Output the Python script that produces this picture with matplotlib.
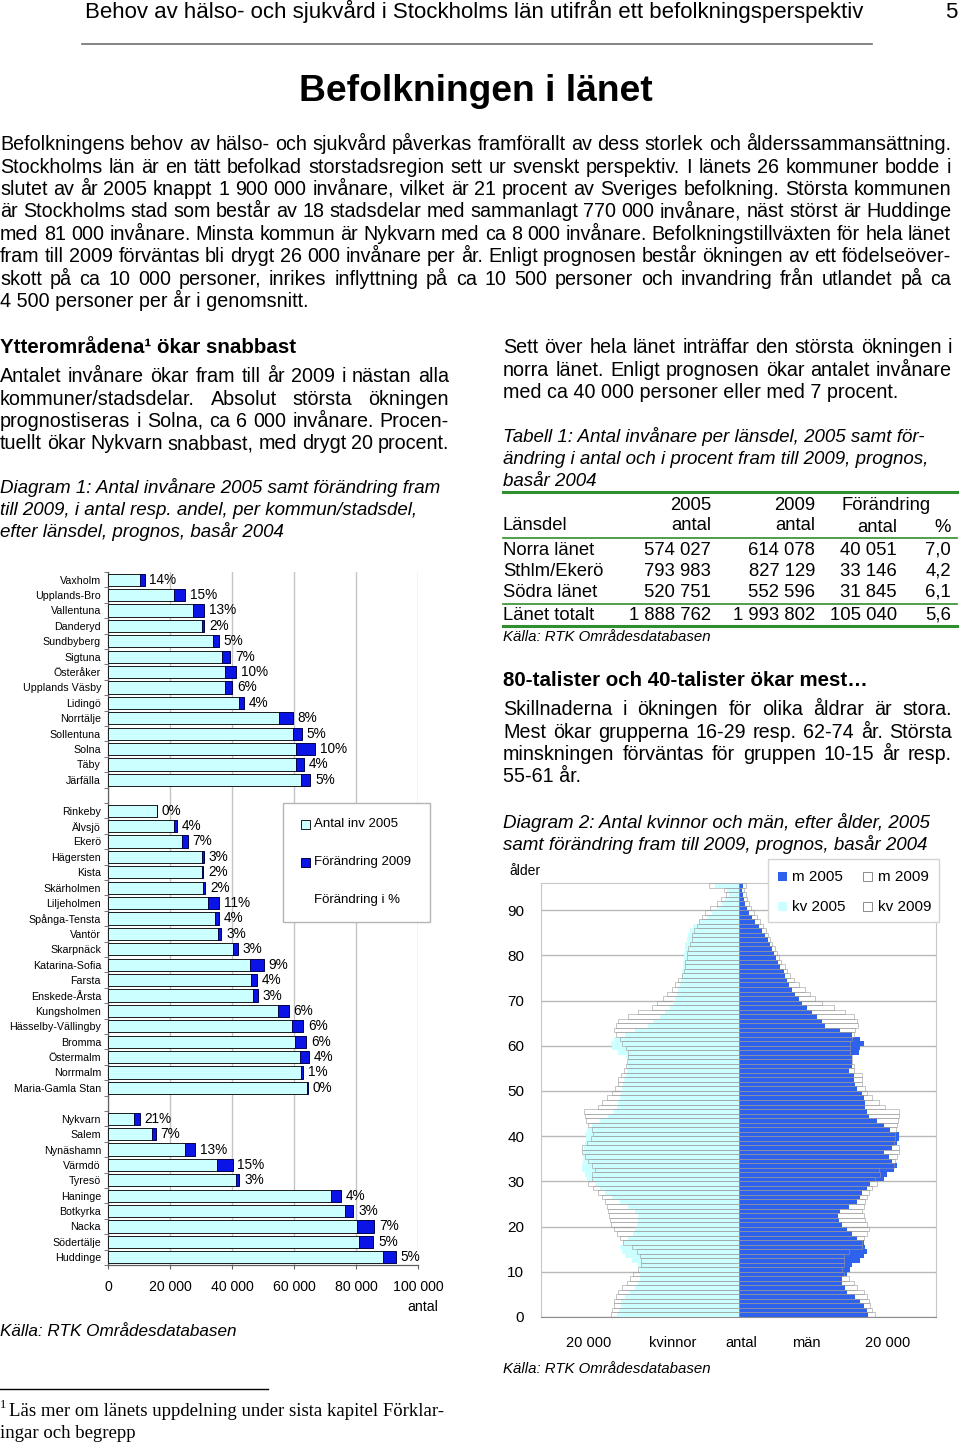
import matplotlib
matplotlib.use("Agg")
import matplotlib.pyplot as plt
from matplotlib.patches import Rectangle
import numpy as np

plt.rcParams['font.family'] = ['Liberation Sans', 'DejaVu Sans']

# Diagram 1: invanare 2005 och forandring till 2009
norra_names = ["Vaxholm", "Upplands-Bro", "Vallentuna", "Danderyd", "Sundbyberg", "Sigtuna",
               "Österåker", "Upplands Väsby", "Lidingö", "Norrtälje", "Sollentuna", "Solna",
               "Täby", "Järfälla"]
norra_2005 = [10300, 21400, 27400, 30400, 33900, 36800, 37600, 37600, 42100, 55100, 59600,
              60600, 60600, 62100]
norra_change = [1500, 3400, 3600, 600, 1800, 2600, 3800, 2400, 1800, 4500, 2900, 6200, 2600, 3200]
norra_pct = [14, 15, 13, 2, 5, 7, 10, 6, 4, 8, 5, 10, 4, 5]

sthlm_names = ["Rinkeby", "Älvsjö", "Ekerö", "Hägersten", "Kista", "Skärholmen", "Liljeholmen",
               "Spånga-Tensta", "Vantör", "Skarpnäck", "Katarina-Sofia", "Farsta",
               "Enskede-Årsta", "Kungsholmen", "Hässelby-Vällingby", "Bromma", "Östermalm",
               "Norrmalm", "Maria-Gamla Stan"]
sthlm_2005 = [15700, 21300, 24000, 30200, 30200, 30800, 32100, 34600, 35400, 40400, 45900,
              46200, 46900, 54900, 59400, 60200, 61800, 62400, 64100]
sthlm_change = [0, 1000, 1700, 700, 600, 600, 3600, 1300, 1200, 1400, 4300, 1800, 1400, 3400,
                3600, 3700, 2900, 600, 300]
sthlm_pct = [0, 4, 7, 3, 2, 2, 11, 4, 3, 3, 9, 4, 3, 6, 6, 6, 4, 1, 0]

sodra_names = ["Nykvarn", "Salem", "Nynäshamn", "Värmdö", "Tyresö", "Haninge", "Botkyrka",
               "Nacka", "Södertälje", "Huddinge"]
sodra_2005 = [8300, 14200, 24800, 35100, 41200, 71800, 76500, 80300, 81100, 88600]
sodra_change = [2000, 1200, 3200, 5100, 1200, 3200, 2600, 5500, 4500, 4200]
sodra_pct = [21, 7, 13, 15, 3, 4, 3, 7, 5, 5]

x_ticks1 = [0, 20000, 40000, 60000, 80000, 100000]

# Diagram 2: alderspyramid, alder 0..95
kv_2005 = [16230, 15920, 15700, 15700, 15160, 14500, 13830, 13380, 13160, 13160,
           13160, 13380, 14270, 15160, 15610, 15830, 15390, 14720, 14050, 13830,
           13600, 13380, 13380, 13830, 14720, 15830, 16950, 17840, 18510, 19180,
           20290, 20520, 20960, 20870, 20830, 20740, 20740, 20610, 20520, 20430,
           20520, 20290, 19620, 18510, 17390, 16590, 16280, 16060, 15830, 15700,
           15610, 15390, 15250, 15070, 14940, 14810, 14810, 15070, 16060, 16860,
           17040, 16590, 15160, 13830, 12040, 11370, 10480, 9810, 9140, 8700,
           8470, 8250, 8030, 7800, 7670, 7580, 7490, 7360, 7360, 7270,
           7230, 7140, 7140, 6910, 6690, 6470, 6020, 5130, 4240, 3570,
           2900, 2230, 1780, 1250, 1560, 3120]
kv_2009 = [17040, 16860, 16590, 16590, 16410, 16150, 15610, 14940, 14500, 14050,
           13380, 13020, 13020, 13160, 13600, 14270, 15390, 15830, 16280, 16590,
           17040, 17170, 17260, 17390, 17620, 17840, 18200, 18730, 19400, 20070,
           19620, 19620, 19180, 19620, 20070, 20520, 20960, 20960, 20290, 19710,
           19400, 19620, 20070, 20380, 20520, 20650, 18730, 18290, 17620, 16860,
           16500, 16150, 16060, 15700, 15250, 15070, 14940, 14810, 14810, 15070,
           15610, 15830, 16410, 16590, 16410, 16060, 14720, 13380, 11600, 10930,
           10040, 9590, 8920, 8470, 8030, 7580, 7270, 7140, 7140, 6910,
           6820, 6690, 6470, 6240, 6150, 5890, 5580, 5260, 4910, 4460,
           3790, 2900, 2320, 1650, 1920, 3920]
m_2005 = [17300, 17170, 16730, 16280, 15610, 14500, 14270, 13830, 13830, 14500,
          14940, 15160, 16280, 16730, 17170, 16950, 16730, 15830, 15160, 14500,
          13830, 13380, 13290, 13600, 14720, 15830, 16280, 16500, 17170, 17620,
          19400, 19850, 20740, 21190, 20520, 20070, 19400, 20520, 21190, 21410,
          21410, 20290, 19400, 18510, 17390, 17170, 16950, 16950, 16730, 16500,
          15830, 15610, 15390, 15390, 14720, 15160, 15160, 15160, 16060, 16280,
          16730, 16280, 15160, 13600, 11600, 11150, 10480, 9810, 9140, 8470,
          8030, 7580, 7140, 6690, 6470, 6240, 6020, 5580, 5260, 5000,
          4680, 4460, 4150, 3920, 3570, 3120, 2680, 2230, 1780, 1340,
          1120, 890, 670, 540, 450, 540]
m_2009 = [18200, 17840, 17620, 17390, 17170, 16730, 15830, 15390, 14720, 14050,
          13830, 14050, 14050, 14050, 14720, 16500, 16500, 16730, 17170, 17390,
          17170, 16950, 16730, 16500, 16730, 16950, 17170, 17390, 17840, 18510,
          18290, 18960, 18730, 20740, 20960, 21190, 21410, 21410, 20740, 20870,
          20960, 21050, 21190, 21320, 21410, 21410, 19620, 18730, 17840, 17170,
          16860, 16500, 16500, 16500, 15390, 15390, 15160, 15160, 14940, 14940,
          14940, 15160, 15390, 15610, 15970, 15830, 15390, 14270, 12710, 11150,
          10260, 9590, 8920, 8030, 7360, 6910, 6470, 6240, 5710, 5350,
          5130, 4820, 4460, 4240, 3920, 3700, 3210, 2900, 2450, 2010,
          1690, 1340, 1120, 980, 800, 980]
age_ticks = [0, 10, 20, 30, 40, 50, 60, 70, 80, 90]

# Tabell 1
tab_rows = ["Norra länet", "Sthlm/Ekerö", "Södra länet"]
tab_2005 = ["574 027", "793 983", "520 751"]
tab_2009 = ["614 078", "827 129", "552 596"]
tab_diff = ["40 051", "33 146", "31 845"]
tab_pct = ["7,0", "4,2", "6,1"]
tab_total = ["Länet totalt", "1 888 762", "1 993 802", "105 040", "5,6"]

LIGHT = "#ccffff"
BLUE = "#0a14e6"
MBLUE = "#2f62ec"
GREEN = "#2f8f2f"

BODY = 14.2
ITAL = 13.5
HEAD = 14.8

W, H = 960, 1446
fig = plt.figure(figsize=(9.6, 14.46), dpi=100)


def px_rect(x0, y0, x1, y1):
    return [x0 / W, 1 - y1 / H, (x1 - x0) / W, (y1 - y0) / H]


# ---- diagram 1
ax1 = fig.add_axes(px_rect(108, 572, 418, 1265))
groups = [(norra_names, norra_2005, norra_change, norra_pct),
          (sthlm_names, sthlm_2005, sthlm_change, sthlm_pct),
          (sodra_names, sodra_2005, sodra_change, sodra_pct)]
pos = 0
ticks, labels = [], []
for names, b, c, p in groups:
    y = np.arange(pos, pos + len(names))
    ax1.barh(y, b, height=0.8, color=LIGHT, edgecolor="#1a1a1a", lw=0.7, zorder=3)
    ax1.barh(y, c, left=b, height=0.8, color=BLUE, edgecolor="#00004a", lw=0.7, zorder=3)
    for yy, bb, cc, pp in zip(y, b, c, p):
        ax1.annotate(f"{pp}%", (bb + cc, yy), xytext=(3.5, 0), textcoords="offset points",
                     va="center", ha="left", fontsize=9.8, zorder=4)
    ticks += list(y)
    labels += names
    pos += len(names) + 1

ax1.set_ylim(pos - 1.5, -0.5)
ax1.set_xlim(0, 100000)
ax1.set_yticks(ticks)
ax1.set_yticklabels(labels, fontsize=7.7)
ax1.set_yticks(np.arange(-0.5, pos - 1, 1), minor=True)
ax1.tick_params(axis="y", which="major", length=0, pad=5)
ax1.tick_params(axis="y", which="minor", length=3, color="#606060", direction="out")
ax1.set_xticks(x_ticks1)
ax1.set_xticklabels([f"{v:,}".replace(",", " ") for v in x_ticks1], fontsize=10.2)
ax1.tick_params(axis="x", length=3, color="#606060", pad=8)
ax1.xaxis.grid(True, color="#c4c4c4", lw=1)
ax1.set_axisbelow(True)
for s in ["top", "right"]:
    ax1.spines[s].set_visible(False)
for s in ["left", "bottom"]:
    ax1.spines[s].set_color("#606060")
    ax1.spines[s].set_linewidth(0.9)

# ---- diagram 2
ax2 = fig.add_axes(px_rect(541, 883, 936, 1317))
ages = np.arange(len(kv_2005)) + 0.5
ax2.barh(ages, -np.array(kv_2005), height=1.0, color=LIGHT, lw=0, zorder=2)
ax2.barh(ages, m_2005, height=1.0, color=MBLUE, lw=0, zorder=2)
ax2.barh(ages, -np.array(kv_2009), height=1.0, fill=False, edgecolor="#9a9a9a", lw=0.4, zorder=3)
ax2.barh(ages, m_2009, height=1.0, fill=False, edgecolor="#9a9a9a", lw=0.4, zorder=3)
ax2.set_xlim(-26400, 26400)
ax2.set_ylim(0, 96)
ax2.set_yticks(age_ticks)
ax2.set_yticklabels([str(a) for a in age_ticks], fontsize=11)
ax2.tick_params(axis="y", length=0, pad=12)
ax2.set_xticks([])
ax2.yaxis.grid(True, color="#b8b8b8", lw=1)
ax2.set_axisbelow(True)
for s in ["top", "left", "right"]:
    ax2.spines[s].set_color("#c8c8c8")
ax2.spines["bottom"].set_color("#8c8c8c")

# ---- page text
page = fig.add_axes([0, 0, 1, 1])
page.set_xlim(0, W)
page.set_ylim(H, 0)
page.axis("off")
renderer = fig.canvas.get_renderer()


def base(y, size):
    # y is the visual middle of the line, text is set on its baseline
    return y + 0.26 * size * 100 / 72


def put(x, y, s, size=BODY, **kw):
    return page.text(x, base(y, size), s, fontsize=size, va="baseline", **kw)


def justify(x0, x1, y, line, size=BODY, **kw):
    words = line.split()
    widths = []
    for w in words:
        t = page.text(0, 0, w, fontsize=size, **kw)
        widths.append(t.get_window_extent(renderer).width)
        t.remove()
    gap = (x1 - x0 - sum(widths)) / (len(words) - 1)
    x = x0
    for w, wd in zip(words, widths):
        page.text(x, base(y, size), w, fontsize=size, va="baseline", ha="left", **kw)
        x += wd + gap


def paragraph(x0, x1, y0, lines, step=22.4, size=BODY, last_left=True):
    for i, line in enumerate(lines):
        y = y0 + i * step
        if i == len(lines) - 1 and last_left:
            put(x0, y, line, size)
        else:
            justify(x0, x1, y, line, size)


put(85, 12, "Behov av hälso- och sjukvård i Stockholms län utifrån ett befolkningsperspektiv", 16)
put(945, 12, "5", 16)
page.plot([82, 872], [44, 44], color="#707070", lw=1.2)
put(476, 91, "Befolkningen i länet", 26.8, weight="bold", ha="center")

paragraph(0, 951, 145, [
    "Befolkningens behov av hälso- och sjukvård påverkas framförallt av dess storlek och ålderssammansättning.",
    "Stockholms län är en tätt befolkad storstadsregion sett ur svenskt perspektiv. I länets 26 kommuner bodde i",
    "slutet av år 2005 knappt 1 900 000 invånare, vilket är 21 procent av Sveriges befolkning. Största kommunen",
    "är Stockholms stad som består av 18 stadsdelar med sammanlagt 770 000 invånare, näst störst är Huddinge",
    "med 81 000 invånare. Minsta kommun är Nykvarn med ca 8 000 invånare. Befolkningstillväxten för hela länet",
    "fram till 2009 förväntas bli drygt 26 000 invånare per år. Enligt prognosen består ökningen av ett födelseöver-",
    "skott på ca 10 000 personer, inrikes inflyttning på ca 10 500 personer och invandring från utlandet på ca",
    "4 500 personer per år i genomsnitt."])

# left column
put(0, 348, "Ytterområdena¹ ökar snabbast", HEAD, weight="bold")
paragraph(0, 449, 377, [
    "Antalet invånare ökar fram till år 2009 i nästan alla",
    "kommuner/stadsdelar. Absolut största ökningen",
    "prognostiseras i Solna, ca 6 000 invånare. Procen-",
    "tuellt ökar Nykvarn snabbast, med drygt 20 procent."], last_left=False)
for i, line in enumerate(["Diagram 1: Antal invånare 2005 samt förändring fram",
                          "till 2009, i antal resp. andel, per kommun/stadsdel,",
                          "efter länsdel, prognos, basår 2004"]):
    put(0, 488 + i * 22, line, ITAL, style="italic")

# diagram 1 legend and labels
page.add_patch(Rectangle((283, 803), 147, 119, fc="white", ec="#b4b4b4", lw=1))
page.add_patch(Rectangle((301, 820), 9, 9, fc=LIGHT, ec="#1a1a1a", lw=0.7))
put(314, 824, "Antal inv 2005", 9.5)
page.add_patch(Rectangle((301, 858), 9, 9, fc=BLUE, ec="#00004a", lw=0.7))
put(314, 862, "Förändring 2009", 9.5)
put(314, 900, "Förändring i %", 9.5)
put(438, 1307, "antal", 10.2, ha="right")
put(0, 1332, "Källa: RTK Områdesdatabasen", 12.3, style="italic")

page.plot([0, 268], [1389, 1389], color="black", lw=1)
put(0, 1405, "1", 9, family="Liberation Serif")
put(9, 1411, "Läs mer om länets uppdelning under sista kapitel Förklar-", 13.5, family="Liberation Serif")
put(0, 1433, "ingar och begrepp", 13.5, family="Liberation Serif")

# right column
paragraph(503, 952, 348, [
    "Sett över hela länet inträffar den största ökningen i",
    "norra länet. Enligt prognosen ökar antalet invånare",
    "med ca 40 000 personer eller med 7 procent."])
for i, line in enumerate(["Tabell 1: Antal invånare per länsdel, 2005 samt för-",
                          "ändring i antal och i procent fram till 2009, prognos,",
                          "basår 2004"]):
    put(503, 437 + i * 22, line, ITAL, style="italic")

# table
TAB = 13.3
page.plot([503, 957], [492, 492], color=GREEN, lw=2.2)
page.plot([503, 957], [538, 538], color=GREEN, lw=1.2)
page.plot([503, 957], [604, 604], color=GREEN, lw=1.2)
page.plot([503, 957], [626, 626], color=GREEN, lw=2.2)
col_r = [711, 815, 897, 951]
put(col_r[0], 505, "2005", TAB, ha="right")
put(col_r[1], 505, "2009", TAB, ha="right")
put(886, 505, "Förändring", TAB, ha="center")
put(503, 525, "Länsdel", TAB)
put(col_r[0], 525, "antal", TAB, ha="right")
put(col_r[1], 525, "antal", TAB, ha="right")
put(col_r[2], 527, "antal", TAB, ha="right")
put(col_r[3], 527, "%", TAB, ha="right")
for i, row in enumerate(zip(tab_rows, tab_2005, tab_2009, tab_diff, tab_pct)):
    y = 550 + i * 21
    put(503, y, row[0], TAB)
    for xr, val in zip(col_r, row[1:]):
        put(xr, y, val, TAB, ha="right")
put(503, 615, tab_total[0], TAB)
for xr, val in zip(col_r, tab_total[1:]):
    put(xr, 615, val, TAB, ha="right")
put(503, 637, "Källa: RTK Områdesdatabasen", 10.8, style="italic")

put(503, 681, "80-talister och 40-talister ökar mest…", HEAD, weight="bold")
paragraph(503, 952, 710, [
    "Skillnaderna i ökningen för olika åldrar är stora.",
    "Mest ökar grupperna 16-29 resp. 62-74 år. Största",
    "minskningen förväntas för gruppen 10-15 år resp.",
    "55-61 år."])
for i, line in enumerate(["Diagram 2: Antal kvinnor och män, efter ålder, 2005",
                          "samt förändring fram till 2009, prognos, basår 2004"]):
    put(503, 823 + i * 22, line, ITAL, style="italic")

# diagram 2 legend and labels
put(509, 871, "ålder", 10)
page.add_patch(Rectangle((768, 859), 171, 63, fc="white", ec="#d4d4d4", lw=1))
page.add_patch(Rectangle((778, 872), 9, 9, fc=MBLUE, ec="none"))
put(792, 877, "m 2005", 11)
page.add_patch(Rectangle((863, 872), 9, 9, fc="white", ec="#8a8a8a", lw=0.7))
put(878, 877, "m 2009", 11)
page.add_patch(Rectangle((778, 902), 9, 9, fc=LIGHT, ec="none"))
put(792, 907, "kv 2005", 11)
page.add_patch(Rectangle((863, 902), 9, 9, fc="white", ec="#8a8a8a", lw=0.7))
put(878, 907, "kv 2009", 11)
for x, s in [(589, "20 000"), (673, "kvinnor"), (741, "antal"), (806, "män"), (888, "20 000")]:
    put(x, 1343, s, 10.5, ha="center")
put(503, 1369, "Källa: RTK Områdesdatabasen", 10.8, style="italic")

fig.savefig("out.png", dpi=100)
